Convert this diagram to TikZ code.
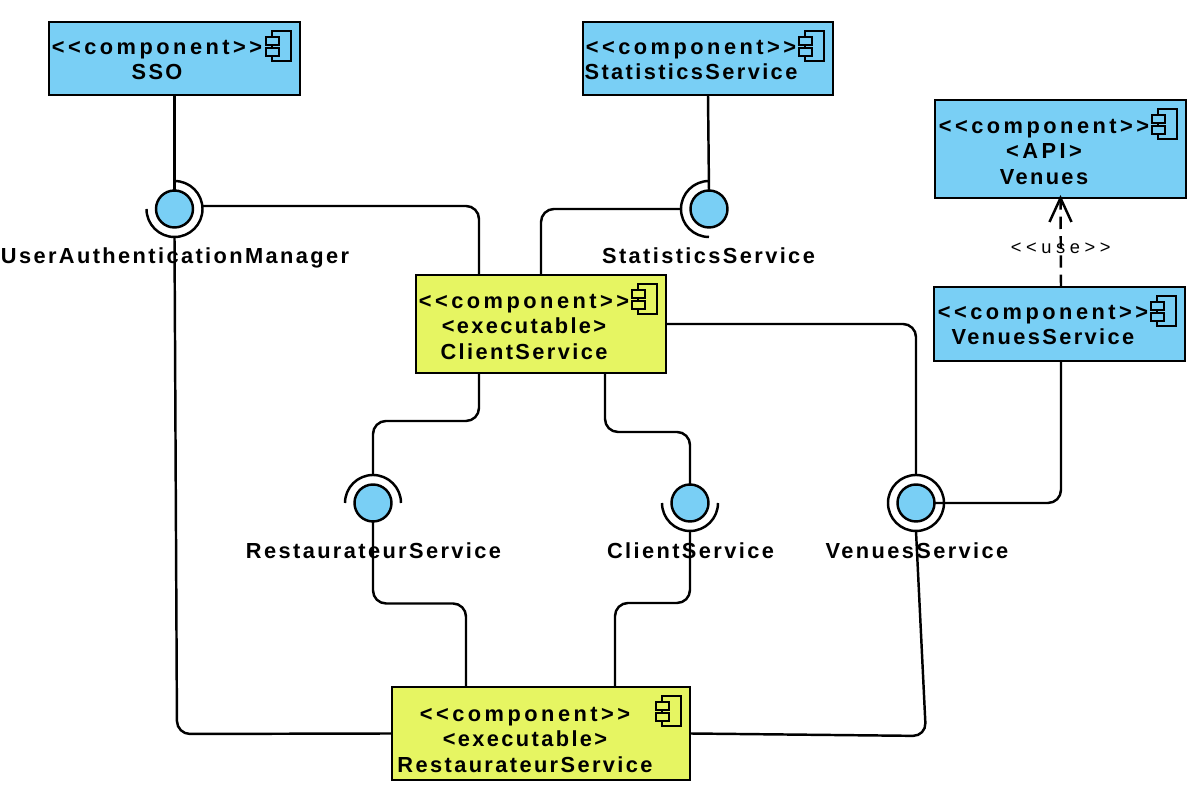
\documentclass[tikz,border=0pt]{standalone}
\usepackage{fontspec}
\newfontfamily\umlfont{Liberation Sans}[LetterSpace=16]
\newfontfamily\namefont{Liberation Sans}[LetterSpace=11]
\newfontfamily\stereofont{Liberation Sans}[LetterSpace=25]
\definecolor{compblue}{HTML}{79CFF5}
\definecolor{compyellow}{HTML}{E6F562}
\tikzset{
  pics/compicon/.style={code={
    \draw[line width=.55pt, fill=#1] (-.28,-.09) rectangle (-.09,-.39);
    \draw[line width=.55pt, fill=#1] (-.34,-.15) rectangle (-.21,-.23);
    \draw[line width=.55pt, fill=#1] (-.34,-.26) rectangle (-.21,-.34);
  }}
}
\begin{document}
\begin{tikzpicture}[
  compbox/.style={draw, line width=.7pt, inner sep=0pt, outer sep=0pt},
  comptext/.style={inner sep=0pt, align=center, font=\umlfont\bfseries\fontsize{6.2}{7.25}\selectfont},
  iflabel/.style={inner sep=0pt, anchor=base, font=\namefont\bfseries\fontsize{6.2}{7.25}\selectfont},
  iface/.style={circle, draw, fill=compblue, line width=.7pt, minimum size=.37cm, inner sep=0pt, outer sep=0pt},
  sock/.style={circle, minimum size=.56cm, inner sep=0pt, outer sep=0pt},
  wire/.style={line width=.7pt, rounded corners=.13cm},
  sockarc/.style={line width=.7pt}]
\useasboundingbox (0,0) rectangle (11.97,7.91);
% components
\node[compbox, fill=compblue, minimum width=2.51cm, minimum height=.73cm] (sso) at (1.745,7.325) {};
\node[compbox, fill=compblue, minimum width=2.5cm, minimum height=.73cm] (stats) at (7.08,7.325) {};
\node[compbox, fill=compblue, minimum width=2.51cm, minimum height=.98cm] (api) at (10.605,6.42) {};
\node[compbox, fill=compblue, minimum width=2.51cm, minimum height=.74cm] (venues) at (10.595,4.67) {};
\node[compbox, fill=compyellow, minimum width=2.5cm, minimum height=.98cm] (client) at (5.41,4.67) {};
\node[compbox, fill=compyellow, minimum width=2.98cm, minimum height=.93cm] (rest) at (5.41,.575) {};
\pic at (sso.north east) {compicon=compblue};
\pic at (stats.north east) {compicon=compblue};
\pic at (api.north east) {compicon=compblue};
\pic at (venues.north east) {compicon=compblue};
\pic at (client.north east) {compicon=compyellow};
\pic at (rest.north east) {compicon=compyellow};
\node[comptext] (ssotext) at (1.57,7.31) {<<component>>\\\namefont SSO};
\node[comptext] (statstext) at (6.91,7.31) {<<component>>\\\namefont StatisticsService};
\node[comptext] (apitext) at (10.44,6.39) {<<component>>\\<API>\\\namefont Venues};
\node[comptext] (venuestext) at (10.43,4.66) {<<component>>\\\namefont VenuesService};
\node[comptext] (clienttext) at (5.24,4.64) {<<component>>\\\namefont <executable>\\\namefont ClientService};
\node[comptext] (resttext) at (5.25,.51) {<<component>>\\\namefont <executable>\\\namefont RestaurateurService};
% interfaces
\node[sock] (usock) at (1.745,5.82) {};
\node[sock] (ssock) at (7.09,5.82) {};
\node[sock] (rsock) at (3.73,2.88) {};
\node[sock] (csock) at (6.9,2.88) {};
\node[sock] (vsock) at (9.16,2.88) {};
\node[iface] (uif) at (usock) {};
\node[iface] (sif) at (ssock) {};
\node[iface] (rif) at (rsock) {};
\node[iface] (cif) at (csock) {};
\node[iface] (vif) at (vsock) {};
\draw[sockarc] (usock.north) arc[start angle=90, end angle=-180, radius=.28];
\draw[sockarc] (ssock.north) arc[start angle=90, end angle=270, radius=.28];
\draw[sockarc] (rsock.west) arc[start angle=180, end angle=0, radius=.28];
\draw[sockarc] (csock.west) arc[start angle=180, end angle=360, radius=.28];
\draw[sockarc] (vsock) circle[radius=.28];
\node[iflabel] (ulabel) at (1.75,5.27) {UserAuthenticationManager};
\node[iflabel] (slabel) at (7.085,5.27) {StatisticsService};
\node[iflabel] (rlabel) at (3.735,2.32) {RestaurateurService};
\node[iflabel] (clabel) at (6.905,2.32) {ClientService};
\node[iflabel] (vlabel) at (9.17,2.32) {VenuesService};
% bends of the slanted wires
\coordinate (ubend) at (1.77,.57);
\coordinate (vbend) at (9.26,.55);
% wires
\draw[wire] (sso.south) -- (uif.north);
\draw[wire] ([yshift=.03cm]usock.east) -| ([xshift=-.62cm]client.north);
\draw[wire] (usock.south) -- (ubend) -- (rest.west);
\draw[wire] (stats.south) -- (sif.north);
\draw[wire] (ssock.west) -| (client.north);
\draw[wire] (client.east) -| (vsock.north);
\draw[wire] ([xshift=-.62cm]client.south) -- ++(0,-.48) -| (rsock.north);
\draw[wire] ([xshift=.64cm]client.south) -- ++(0,-.59) -| (cif.north);
\draw[wire] (rif.south) -- ++(0,-.82) -| ([xshift=-.75cm]rest.north);
\draw[wire] (csock.south) -- ++(0,-.72) -| ([xshift=.74cm]rest.north);
\draw[wire] (vsock.south) -- (vbend) -- (rest.east);
\draw[wire] (vif.east) -| ([xshift=.015cm]venues.south);
\draw[line width=.7pt, dash pattern=on 3.5pt off 2pt] ([xshift=.015cm]venues.north) -- (api.south)
  node[pos=.44, inner sep=0pt, font=\stereofont\fontsize{5.2}{6}\selectfont] (uselabel) {<<use>>};
\draw[line width=.7pt] ([shift={(-.11,-.24)}]api.south) -- (api.south) -- ([shift={(.11,-.24)}]api.south);
\end{tikzpicture}
\end{document}
